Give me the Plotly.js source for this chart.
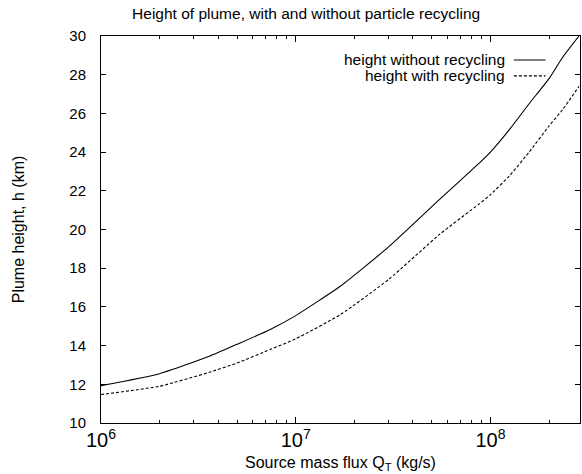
<!DOCTYPE html>
<html>
<head>
<meta charset="utf-8">
<script src="https://cdn.plot.ly/plotly-3.0.1.min.js"></script>
<style>html,body{margin:0;padding:0;background:#fff;}#chart{width:582px;height:474px;}</style>
</head>
<body>
<div id="chart"></div>
<script>
// Source mass flux Q_T (kg/s)
const massFlux = [1e6, 2e6, 3.6e6, 5e6, 7.4e6, 1e7, 1.7e7, 3e7, 5.5e7, 8.7e7, 1e8, 1.26e8, 1.58e8, 2e8, 2.35e8, 2.85e8];
// Plume height (km) without recycling
const heightWithout = [11.93, 12.55, 13.45, 14.07, 14.83, 15.55, 17.08, 19.10, 21.57, 23.4, 24.0, 25.2, 26.5, 27.8, 28.9, 30.0];
// Plume height (km) with recycling
const heightWith = [11.47, 11.90, 12.62, 13.10, 13.80, 14.35, 15.61, 17.42, 19.76, 21.3, 21.8, 22.8, 24.0, 25.35, 26.2, 27.4];
const seriesNames = ['height without recycling', 'height with recycling'];
const yTicks = [10, 12, 14, 16, 18, 20, 22, 24, 26, 28, 30];

const fam = '"Liberation Sans", Arial, sans-serif';
const font = {family: fam, size: 15, color: '#000'};

const traces = [
  {x: massFlux, y: heightWithout, name: seriesNames[0], type: 'scatter', mode: 'lines',
   line: {color: '#000', width: 1.1, shape: 'spline', smoothing: 0.5}},
  {x: massFlux, y: heightWith, name: seriesNames[1], type: 'scatter', mode: 'lines',
   line: {color: '#000', width: 1.1, dash: '3px,2px', shape: 'spline', smoothing: 0.5}}
];

const legX = 0.848, legY = [0.938, 0.897], sx0 = 0.862, sx1 = 0.928;

const layout = {
  width: 582, height: 474,
  margin: {l: 101, r: 2, t: 36, b: 51},
  paper_bgcolor: '#fff', plot_bgcolor: '#fff',
  font: font,
  showlegend: false,
  title: {text: 'Height of plume, with and without particle recycling', font: {family: fam, size: 15.5, color: '#000'},
          x: 0.526, xref: 'container', xanchor: 'center', y: 0.972, yanchor: 'middle'},
  xaxis: {
    type: 'log', range: [6, 8.46], dtick: 1, exponentformat: 'power',
    showgrid: false, zeroline: false, showline: true, linecolor: '#000', linewidth: 1, mirror: 'ticks',
    ticks: 'inside', ticklen: 6, tickcolor: '#000', tickfont: {family: fam, size: 16, color: '#000'},
    minor: {dtick: 'D1', ticks: 'inside', ticklen: 3, tickcolor: '#000', showgrid: false},
    title: {text: 'Source mass flux Q<sub>T</sub> (kg/s)', font: {family: fam, size: 16, color: '#000'}, standoff: 6}
  },
  yaxis: {
    range: [10, 30], tickvals: yTicks, ticktext: yTicks.map(String),
    showgrid: false, zeroline: false, showline: true, linecolor: '#000', linewidth: 1, mirror: 'ticks',
    ticks: 'inside', ticklen: 5, tickcolor: '#000', ticklabelstandoff: 11,
    tickfont: {family: fam, size: 15, color: '#000'},
    title: {text: 'Plume height, h (km)', font: {family: fam, size: 16, color: '#000'}, standoff: 40}
  },
  annotations: seriesNames.map((n, i) => ({
    text: n, xref: 'paper', yref: 'paper', x: legX, y: legY[i], xanchor: 'right', yanchor: 'middle',
    showarrow: false, font: {family: fam, size: 15.5, color: '#000'}
  })),
  shapes: [0, 1].map(i => ({
    type: 'line', xref: 'paper', yref: 'paper', x0: sx0, x1: sx1, y0: legY[i], y1: legY[i],
    line: {color: '#000', width: 1.1, dash: i === 0 ? 'solid' : '3px,2px'}
  }))
};

Plotly.newPlot('chart', traces, layout, {displayModeBar: false, staticPlot: true});
</script>
</body>
</html>
